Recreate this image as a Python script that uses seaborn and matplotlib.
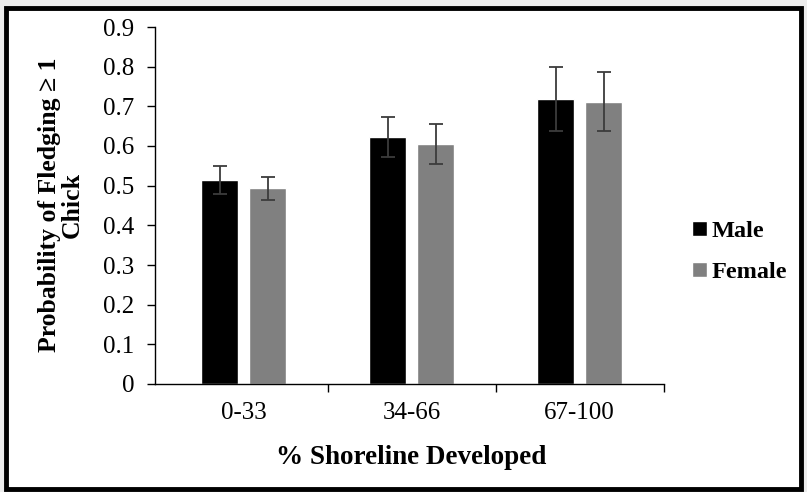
import pandas as pd
import matplotlib
matplotlib.use("Agg")
import matplotlib.pyplot as plt
import seaborn as sns
from matplotlib.patches import Rectangle

categories = ["0-33", "34-66", "67-100"]
groups = ["Male", "Female"]
male = [0.515, 0.622, 0.718]
female = [0.493, 0.605, 0.712]
male_err = [0.035, 0.050, 0.080]
female_err = [0.030, 0.050, 0.075]
yticks = [0, 0.1, 0.2, 0.3, 0.4, 0.5, 0.6, 0.7, 0.8, 0.9]

df = pd.DataFrame({
    "dev": categories * 2,
    "sex": ["Male"] * 3 + ["Female"] * 3,
    "prob": male + female,
})

sns.set_style("white")
plt.rcParams['font.family'] = ['Liberation Serif', 'DejaVu Serif']
plt.rcParams['text.color'] = 'black'
plt.rcParams['xtick.color'] = 'black'
plt.rcParams['ytick.color'] = 'black'

fig = plt.figure(figsize=(8.07, 4.92), dpi=100)
fig.patch.set_facecolor("#ececec")
# white panel with thick black frame
fig.patches.append(Rectangle((6/807, 3/492), 795/807, 481/492, transform=fig.transFigure,
                             facecolor="white", edgecolor="black", linewidth=3.5, zorder=-5))

ax = fig.add_axes([155/807, 108/492, 508.7/807, 357/492])
ax.set_facecolor("none")
sns.barplot(data=df, x="dev", y="prob", hue="sex", hue_order=groups,
            palette=["#000000", "#808080"], width=0.57, gap=0.23,
            errorbar=None, saturation=1, ax=ax, legend=True)

for cont, vals, errs in zip(ax.containers, [male, female], [male_err, female_err]):
    xs = [b.get_x() + b.get_width() / 2 for b in cont]
    ax.errorbar(xs, vals, yerr=errs, fmt="none", ecolor="#3c3c3c",
                elinewidth=1.3, capsize=5, capthick=1.3, zorder=5)

ax.set_ylim(0, 0.9)
ax.set_xlim(-0.528, 2.5)
ax.set_yticks(yticks)
ax.set_yticklabels(["0" if v == 0 else f"{v:.1f}" for v in yticks])
ax.tick_params(axis="y", length=6, width=1, direction="out", left=True, labelsize=18, pad=9)
ax.set_xticks([0, 1, 2])
ax.set_xticklabels(categories)
ax.set_xticks([0.5, 1.5, 2.5], minor=True)
ax.tick_params(axis="x", which="major", length=0, labelsize=18, pad=13)
ax.tick_params(axis="x", which="minor", length=6, width=1, direction="out", bottom=True)
for s in ["top", "right"]:
    ax.spines[s].set_visible(False)
for s in ["left", "bottom"]:
    ax.spines[s].set_color("black")
    ax.spines[s].set_linewidth(1)

ax.set_xlabel("")
ax.set_ylabel("")
fig.text(411/807, 1 - 458/492, "% Shoreline Developed", ha="center", va="center",
         fontsize=19.5, fontweight="bold")
fig.text(61/807, 1 - 205/492, "Probability of Fledging \u2265 1\nChick", ha="center", va="center",
         rotation=90, fontsize=18.5, fontweight="bold", multialignment="center", linespacing=1.0)

leg = ax.legend(frameon=False, loc="center left", bbox_to_anchor=(692/807, 1 - 252/492),
                bbox_transform=fig.transFigure, handlelength=0.6, handleheight=0.6,
                handletextpad=0.2, labelspacing=0.8, borderpad=0, borderaxespad=0,
                prop={"size": 17.5, "weight": "bold"})

fig.savefig("out.png", dpi=100, facecolor=fig.get_facecolor())
